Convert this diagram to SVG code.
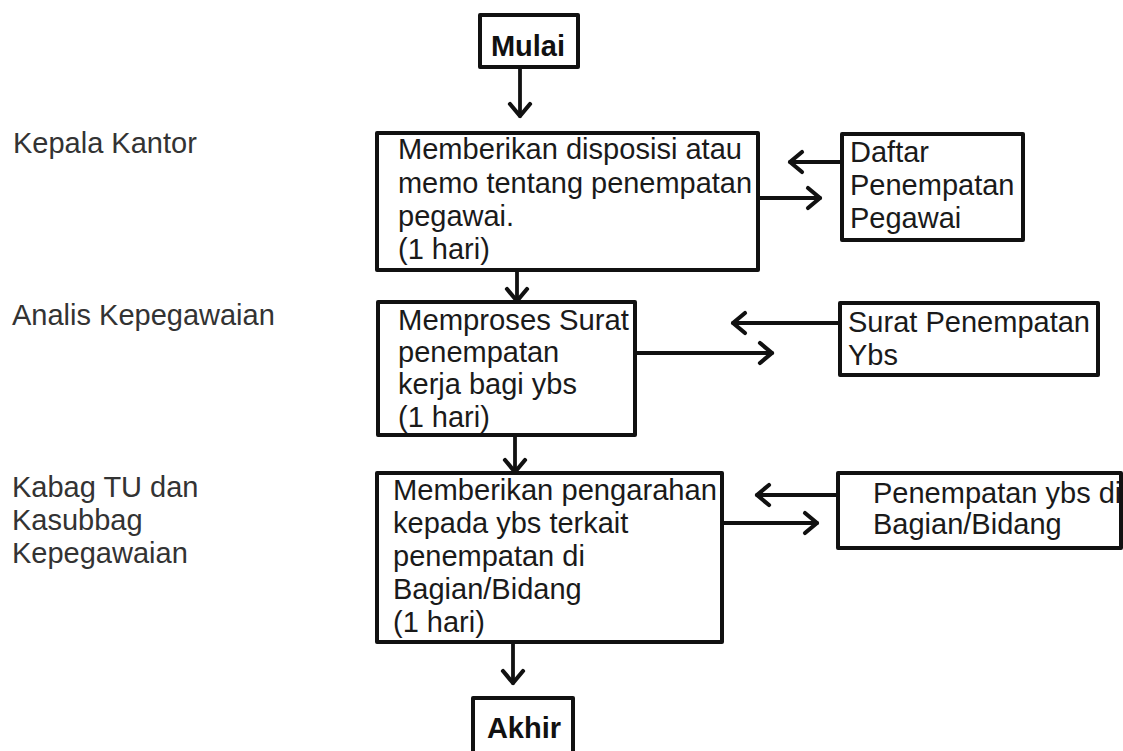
<svg xmlns="http://www.w3.org/2000/svg" width="1123" height="751" viewBox="0 0 1123 751">
<defs>
<marker id="ah" viewBox="0 0 18 26" refX="15" refY="13" markerWidth="18" markerHeight="26" markerUnits="userSpaceOnUse" orient="auto">
<path d="M3,3 L15,13 L3,23" fill="none" stroke="#111" stroke-width="4.2" stroke-linecap="round" stroke-linejoin="round"/>
</marker>
</defs>
<style>
.box{fill:#fff;stroke:#111;stroke-width:4;stroke-linejoin:round}
.t{font-family:"Liberation Sans",Arial,sans-serif;font-size:29px;fill:#1a1a1a}
.lab{font-family:"Liberation Sans",Arial,sans-serif;font-size:29px;fill:#333}
.b{font-family:"Liberation Sans",Arial,sans-serif;font-size:29px;font-weight:bold;fill:#111;text-anchor:middle}
.c{fill:none;stroke:#111;stroke-width:3.8;stroke-linecap:round}
</style>
<rect width="1123" height="751" fill="#fff"/>
<g id="lanes">
<text class="lab" x="13" y="153">Kepala Kantor</text>
<text class="lab" x="12" y="325">Analis Kepegawaian</text>
<text class="lab" x="12" y="497">Kabag TU dan</text>
<text class="lab" x="12" y="530">Kasubbag</text>
<text class="lab" x="12" y="563">Kepegawaian</text>
</g>
<g id="connectors">
<line class="c" x1="520" y1="67" x2="520" y2="116" marker-end="url(#ah)"/>
<line class="c" x1="517" y1="270" x2="517" y2="301" marker-end="url(#ah)"/>
<line class="c" x1="515" y1="435" x2="515" y2="472" marker-end="url(#ah)"/>
<line class="c" x1="513" y1="642" x2="513" y2="683" marker-end="url(#ah)"/>
<line class="c" x1="842" y1="162" x2="790" y2="162" marker-end="url(#ah)"/>
<line class="c" x1="758" y1="198" x2="820" y2="198" marker-end="url(#ah)"/>
<line class="c" x1="840" y1="323" x2="733" y2="323" marker-end="url(#ah)"/>
<line class="c" x1="635" y1="353" x2="772" y2="353" marker-end="url(#ah)"/>
<line class="c" x1="838" y1="495" x2="757" y2="495" marker-end="url(#ah)"/>
<line class="c" x1="722" y1="523" x2="817" y2="523" marker-end="url(#ah)"/>
</g>
<g id="mulai">
<rect class="box" x="480" y="15" width="98" height="52"/>
<text class="b" x="528" y="56">Mulai</text>
</g>
<g id="step1">
<rect class="box" x="377" y="133" width="381" height="137"/>
<text class="t" x="398" y="159" textLength="344" lengthAdjust="spacingAndGlyphs">Memberikan disposisi atau</text>
<text class="t" x="398" y="193" textLength="354" lengthAdjust="spacingAndGlyphs">memo tentang penempatan</text>
<text class="t" x="398" y="226">pegawai.</text>
<text class="t" x="398" y="259">(1 hari)</text>
</g>
<g id="daftar">
<rect class="box" x="842" y="134" width="181" height="106"/>
<text class="t" x="850" y="162">Daftar</text>
<text class="t" x="850" y="195">Penempatan</text>
<text class="t" x="850" y="228">Pegawai</text>
</g>
<g id="step2">
<rect class="box" x="378" y="302" width="257" height="133"/>
<text class="t" x="398" y="330" textLength="231" lengthAdjust="spacingAndGlyphs">Memproses Surat</text>
<text class="t" x="398" y="362">penempatan</text>
<text class="t" x="398" y="394">kerja bagi ybs</text>
<text class="t" x="398" y="427">(1 hari)</text>
</g>
<g id="surat">
<rect class="box" x="840" y="303" width="258" height="72"/>
<text class="t" x="848" y="332" textLength="242" lengthAdjust="spacingAndGlyphs">Surat Penempatan</text>
<text class="t" x="848" y="365">Ybs</text>
</g>
<g id="step3">
<rect class="box" x="377" y="473" width="345" height="169"/>
<text class="t" x="393" y="500" textLength="324" lengthAdjust="spacingAndGlyphs">Memberikan pengarahan</text>
<text class="t" x="393" y="533">kepada ybs terkait</text>
<text class="t" x="393" y="566">penempatan di</text>
<text class="t" x="393" y="599">Bagian/Bidang</text>
<text class="t" x="393" y="632">(1 hari)</text>
</g>
<g id="penempatan">
<rect class="box" x="838" y="473" width="283" height="75"/>
<text class="t" x="873" y="503">Penempatan ybs di</text>
<text class="t" x="873" y="534">Bagian/Bidang</text>
</g>
<g id="akhir">
<path class="box" d="M473,756 L473,698 L573,698 L573,756"/>
<text class="b" x="524" y="738">Akhir</text>
</g>
</svg>
